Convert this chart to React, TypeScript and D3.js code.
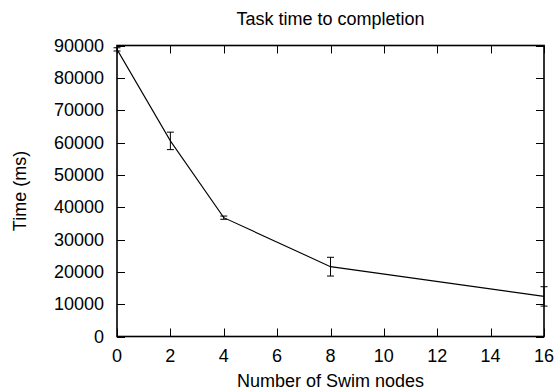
import { useRef, useEffect } from 'react';
import * as d3 from 'd3';

// Swim nodes vs mean task time (ms) with error half-widths
const nodes = [0, 2, 4, 8, 16];
const timeMs = [88800, 60500, 36750, 21600, 12400];
const timeErr = [500, 2700, 500, 2900, 3000];
const xTicks = [0, 2, 4, 6, 8, 10, 12, 14, 16];
const yTicks = [0, 10000, 20000, 30000, 40000, 50000, 60000, 70000, 80000, 90000];

const W = 556;
const H = 392;
const margin = { top: 45.5, right: 12, bottom: 55.5, left: 117 };
const font = '"Liberation Sans", Arial, Helvetica, sans-serif';

export default function App() {
  const svgRef = useRef<SVGSVGElement>(null);

  useEffect(() => {
    if (!svgRef.current) return;
    const svg = d3.select(svgRef.current);
    svg.selectAll('*').remove();

    const x = d3.scaleLinear().domain([0, 16]).range([margin.left, W - margin.right]);
    const y = d3.scaleLinear().domain([0, 90000]).range([H - margin.bottom, margin.top]);
    const [x0, x1] = x.range();
    const [y0, y1] = y.range();
    const tickLen = 8;

    svg.append('rect').attr('width', W).attr('height', H).attr('fill', '#fff');

    const g = svg.append('g').attr('stroke', '#000').attr('fill', 'none');

    // ticks, mirrored on all four sides (gnuplot style)
    xTicks.forEach((t) => {
      const px = Math.round(x(t)) + 0.5;
      g.append('line').attr('x1', px).attr('x2', px).attr('y1', y0).attr('y2', y0 - tickLen);
      g.append('line').attr('x1', px).attr('x2', px).attr('y1', y1).attr('y2', y1 + tickLen);
    });
    yTicks.forEach((t) => {
      const py = Math.round(y(t)) + 0.5;
      g.append('line').attr('x1', x0).attr('x2', x0 + tickLen).attr('y1', py).attr('y2', py);
      g.append('line').attr('x1', x1).attr('x2', x1 - tickLen).attr('y1', py).attr('y2', py);
    });

    // frame
    g.append('rect')
      .attr('x', x0).attr('y', y1)
      .attr('width', x1 - x0).attr('height', y0 - y1)
      .attr('stroke-width', 1.6);

    // tick labels
    const txt = svg.append('g').attr('font-family', font).attr('font-size', 18).attr('fill', '#000');
    xTicks.forEach((t) => {
      txt.append('text').attr('x', x(t)).attr('y', y0 + 25).attr('text-anchor', 'middle').text(t);
    });
    yTicks.forEach((t) => {
      txt.append('text').attr('x', x0 - 13).attr('y', y(t)).attr('dy', '0.35em')
        .attr('text-anchor', 'end').text(t);
    });

    // titles
    txt.append('text').attr('x', (x0 + x1) / 2).attr('y', 25).attr('text-anchor', 'middle')
      .text('Task time to completion');
    txt.append('text').attr('x', (x0 + x1) / 2).attr('y', 387).attr('text-anchor', 'middle')
      .text('Number of Swim nodes');
    txt.append('text')
      .attr('transform', `translate(26,${(y0 + y1) / 2}) rotate(-90)`)
      .attr('text-anchor', 'middle')
      .text('Time (ms)');

    // data line
    const pts = nodes.map((n, i) => [x(n), y(timeMs[i])] as [number, number]);
    g.append('path').attr('d', d3.line()(pts)).attr('stroke-width', 1.1);

    // error bars
    const cap = 3.5;
    nodes.forEach((n, i) => {
      const px = x(n);
      const hi = y(timeMs[i] + timeErr[i]);
      const lo = y(timeMs[i] - timeErr[i]);
      g.append('line').attr('x1', px).attr('x2', px).attr('y1', hi).attr('y2', lo);
      g.append('line').attr('x1', px - cap).attr('x2', px + cap).attr('y1', hi).attr('y2', hi);
      g.append('line').attr('x1', px - cap).attr('x2', px + cap).attr('y1', lo).attr('y2', lo);
    });
  }, []);

  return (
    <svg
      ref={svgRef}
      width={W}
      height={H}
      style={{ position: 'absolute', left: 0, top: 0, display: 'block' }}
    />
  );
}
